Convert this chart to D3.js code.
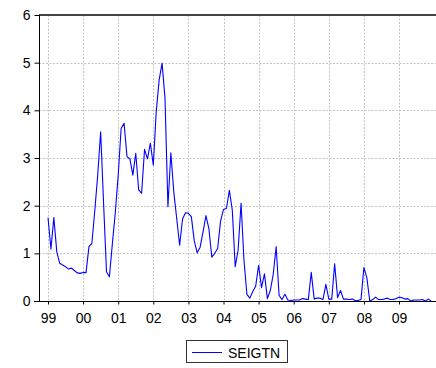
<!DOCTYPE html>
<html>
<head>
<meta charset="utf-8">
<script src="https://cdn.jsdelivr.net/npm/d3@7"></script>
<style>
  html, body { margin: 0; padding: 0; background: #fff; }
  svg { display: block; font-family: "Liberation Sans", Arial, sans-serif; }
</style>
</head>
<body>
<svg id="chart" width="436" height="368"></svg>
<script>
// Monthly SEIGTN values, 1999m1 .. 2009m12
const y1999 = [1.75,1.09,1.75,1.03,0.79,0.755,0.72,0.67,0.69,0.64,0.59,0.58];
const y2000 = [0.60,0.595,1.14,1.21,1.90,2.65,3.55,2.05,0.61,0.51,1.20,1.85];
const y2001 = [2.64,3.62,3.73,3.03,2.98,2.64,3.10,2.33,2.26,3.18,2.98,3.31];
const y2002 = [2.85,3.97,4.64,4.99,4.25,1.98,3.11,2.29,1.73,1.17,1.72,1.85];
const y2003 = [1.84,1.77,1.26,1.01,1.13,1.45,1.79,1.52,0.92,1.00,1.10,1.68];
const y2004 = [1.92,1.94,2.32,1.91,0.72,1.07,2.05,0.85,0.14,0.06,0.20,0.31];
const y2005 = [0.75,0.28,0.57,0.05,0.22,0.56,1.14,0.12,0.03,0.14,0.02,0.01];
const y2006 = [0.02,0.02,0.02,0.05,0.04,0.03,0.60,0.04,0.06,0.06,0.03,0.35];
const y2007 = [0.04,0.04,0.78,0.07,0.22,0.04,0.04,0.03,0.04,0.01,0.01,0.03];
const y2008 = [0.70,0.49,0.00,0.03,0.08,0.03,0.03,0.04,0.06,0.03,0.03,0.05];
const y2009 = [0.08,0.07,0.04,0.05,0.00,0.02,0.02,0.02,0.03,0.00,0.04,0.00];
const yearLabels = ["99","00","01","02","03","04","05","06","07","08","09"];
const yTicks = [0,1,2,3,4,5,6];
const seriesName = "SEIGTN";

const values = [].concat(y1999,y2000,y2001,y2002,y2003,y2004,y2005,y2006,y2007,y2008,y2009);
const data = values.map((v,i) => ({i, v}));

const svg = d3.select("#chart");
const W = 436;
const pLeft = 39, pTop = 15, pBottom = 301;

const x = d3.scaleLinear().domain([-3.08, 134.2]).range([pLeft, pLeft + 137.28*2.925]);
const y = d3.scaleLinear().domain([0, 6]).range([pBottom, pTop]);

const tickIdx = yearLabels.map((d,k) => k*12);

// grid
const grid = svg.append("g");
grid.selectAll("line.v").data(tickIdx).enter().append("line")
  .attr("x1", d => Math.round(x(d)) + 0.5).attr("x2", d => Math.round(x(d)) + 0.5)
  .attr("y1", pTop).attr("y2", pBottom)
  .attr("stroke", "#c4c4c4").attr("stroke-dasharray", "2 1.5");
grid.selectAll("line.h").data(yTicks.filter(t => t > 0 && t < 6)).enter().append("line")
  .attr("x1", pLeft).attr("x2", W)
  .attr("y1", d => Math.round(y(d)) + 0.5).attr("y2", d => Math.round(y(d)) + 0.5)
  .attr("stroke", "#c4c4c4").attr("stroke-dasharray", "2 1.5");

// line
const line = d3.line().x(d => x(d.i)).y(d => y(d.v));
svg.append("path").datum(data)
  .attr("d", line).attr("fill", "none")
  .attr("stroke", "#0000ff").attr("stroke-width", 1.1)
  .attr("stroke-linejoin", "round");

// top frame
svg.append("line").attr("x1", pLeft).attr("x2", W).attr("y1", pTop).attr("y2", pTop)
  .attr("stroke", "#444").attr("stroke-width", 2);

// axes
const yAxis = d3.axisLeft(y).tickValues(yTicks).tickFormat(d3.format("d"))
  .tickSize(5).tickPadding(4);
const gy = svg.append("g").attr("transform", `translate(${pLeft + 0.5},0)`).call(yAxis);
gy.select(".domain").attr("stroke", "#000").attr("d", `M0,${pTop}V${pBottom}`);
gy.selectAll("text").attr("font-size", 14).attr("fill", "#000")
  .attr("font-family", "Liberation Sans, Arial, sans-serif");

const xAxis = d3.axisBottom(x).tickValues(tickIdx).tickFormat((d,k) => yearLabels[k])
  .tickSize(3).tickPadding(9);
const gx = svg.append("g").attr("transform", `translate(0,${pBottom + 0.5})`).call(xAxis);
gx.select(".domain").attr("stroke", "#000").attr("d", `M${pLeft - 5},0H${W}`);
gx.selectAll("text").attr("font-size", 14).attr("fill", "#000")
  .attr("font-family", "Liberation Sans, Arial, sans-serif");

// legend
const lg = svg.append("g");
lg.append("rect").attr("x", 186.5).attr("y", 340.5).attr("width", 101).attr("height", 22)
  .attr("fill", "#fff").attr("stroke", "#333");
lg.append("line").attr("x1", 192).attr("x2", 222).attr("y1", 352.5).attr("y2", 352.5)
  .attr("stroke", "#0000ff").attr("stroke-width", 1);
lg.append("text").attr("x", 228).attr("y", 357.5).attr("font-size", 14)
  .attr("fill", "#000").text(seriesName);
</script>
</body>
</html>
